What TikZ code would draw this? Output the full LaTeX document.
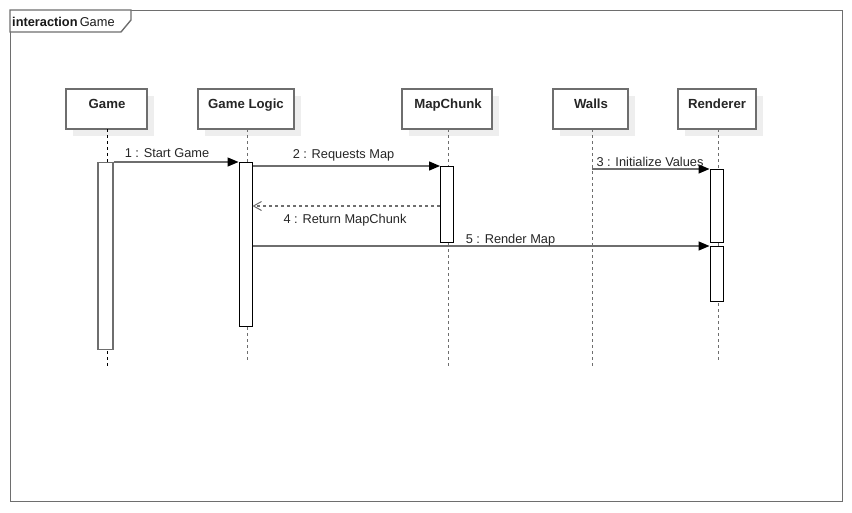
\documentclass[tikz,border=0pt]{standalone}
\usepackage{fontspec}
\setmainfont{Liberation Sans}
\usetikzlibrary{arrows.meta,shadows}
\definecolor{lc}{HTML}{6E6E6E}
\definecolor{sh}{HTML}{EEEEEE}
\begin{document}
\begin{tikzpicture}[x=1pt,y=-1pt,
  head/.style={draw=lc,line width=1.5pt,fill=white,minimum height=40pt,inner sep=0pt,
    drop shadow={shadow xshift=7pt,shadow yshift=-7pt,fill=sh,opacity=1}},
  hname/.style={anchor=base,inner sep=0pt,font=\fontsize{13.2}{15}\selectfont\bfseries,text=black!85},
  life/.style={draw=lc,line width=1pt,dash pattern=on 3pt off 3pt},
  act/.style={draw=black,line width=1pt,fill=white,minimum width=13pt,inner sep=0pt,anchor=north},
  msg/.style={draw=lc,line width=1.3pt,-{Triangle[length=11pt,width=9pt,color=black]}},
  ret/.style={draw=lc,line width=1.3pt,dash pattern=on 3pt off 3pt,-{Straight Barb[length=8pt,width=9pt,color=lc,line width=1pt]}},
  lbl/.style={font=\fontsize{12.8}{15}\selectfont,anchor=base,inner sep=0pt,text=black!85}]
\useasboundingbox (0,0) rectangle (852,512);
% frame
\node[draw=lc,line width=1.4pt,minimum width=832pt,minimum height=491pt,anchor=north west,inner sep=0pt] (frame) at (10,10) {};
\draw[lc,line width=1.4pt,fill=white] (10,10) -- (131,10) -- (131,20) -- (121,32) -- (10,32) -- cycle;
\node[anchor=base west,inner sep=0pt,font=\fontsize{12.8}{15}\selectfont,text=black!90] (ftitle) at (12,26) {\textbf{interaction}\,Game};
% heads
\node[head,minimum width=81pt] (game) at (106.5,109) {};
\node[head,minimum width=96pt] (gl) at (246,109) {};
\node[head,minimum width=90pt] (map) at (447,109) {};
\node[head,minimum width=75pt] (walls) at (590.5,109) {};
\node[head,minimum width=78pt] (rend) at (717,109) {};
\node[hname] (tgame) at (107,108) {Game};
\node[hname] (tgl) at (246,108) {Game Logic};
\node[hname] (tmap) at (448,108) {MapChunk};
\node[hname] (twalls) at (591,108) {Walls};
\node[hname] (trend) at (717,108) {Renderer};
% lifeline ends
\coordinate (e1) at (107,367);
\coordinate (e2) at (247,360);
\coordinate (e3) at (448,366);
\coordinate (e4) at (592,366);
\coordinate (e5) at (718,360);
\draw[life,draw=black,line width=0.9pt] (107,129) -- (e1);
\draw[life] (247,129) -- (e2);
\draw[life] (448,129) -- (e3);
\draw[life] (592,129) -- (e4);
\draw[life] (718,129) -- (e5);
% activations
\node[act,draw=lc,line width=1.3pt,minimum width=15pt,minimum height=187pt] (agame) at (105.5,162) {};
\node[act,minimum height=164pt] (agl) at (245.5,162) {};
\node[act,minimum height=76pt] (amap) at (447,166) {};
\node[act,minimum height=73pt] (ar1) at (716.5,169) {};
\node[act,minimum height=55pt] (ar2) at (716.5,246) {};
% message y levels
\coordinate (y1) at (0,162);
\coordinate (y2) at (0,166);
\coordinate (y3) at (0,169);
\coordinate (y4) at (0,206);
\coordinate (y5) at (0,246);
\coordinate (w3) at (592,169);
\draw[msg] (agame.east |- y1) -- (agl.west |- y1);
\draw[msg] (agl.east |- y2) -- (amap.west |- y2);
\draw[msg] (w3) -- (ar1.west |- y3);
\draw[ret] (amap.west |- y4) -- (agl.east |- y4);
\draw[msg] (agl.east |- y5) -- (ar2.west |- y5);
% labels
\node[lbl] (l1) at (167,157) {1 : Start Game};
\node[lbl] (l2) at (343.5,158) {2 : Requests Map};
\node[lbl] (l3) at (650,166) {3 : Initialize Values};
\node[lbl] (l4) at (345,223) {4 : Return MapChunk};
\node[lbl] (l5) at (510.5,243) {5 : Render Map};
\end{tikzpicture}
\end{document}
